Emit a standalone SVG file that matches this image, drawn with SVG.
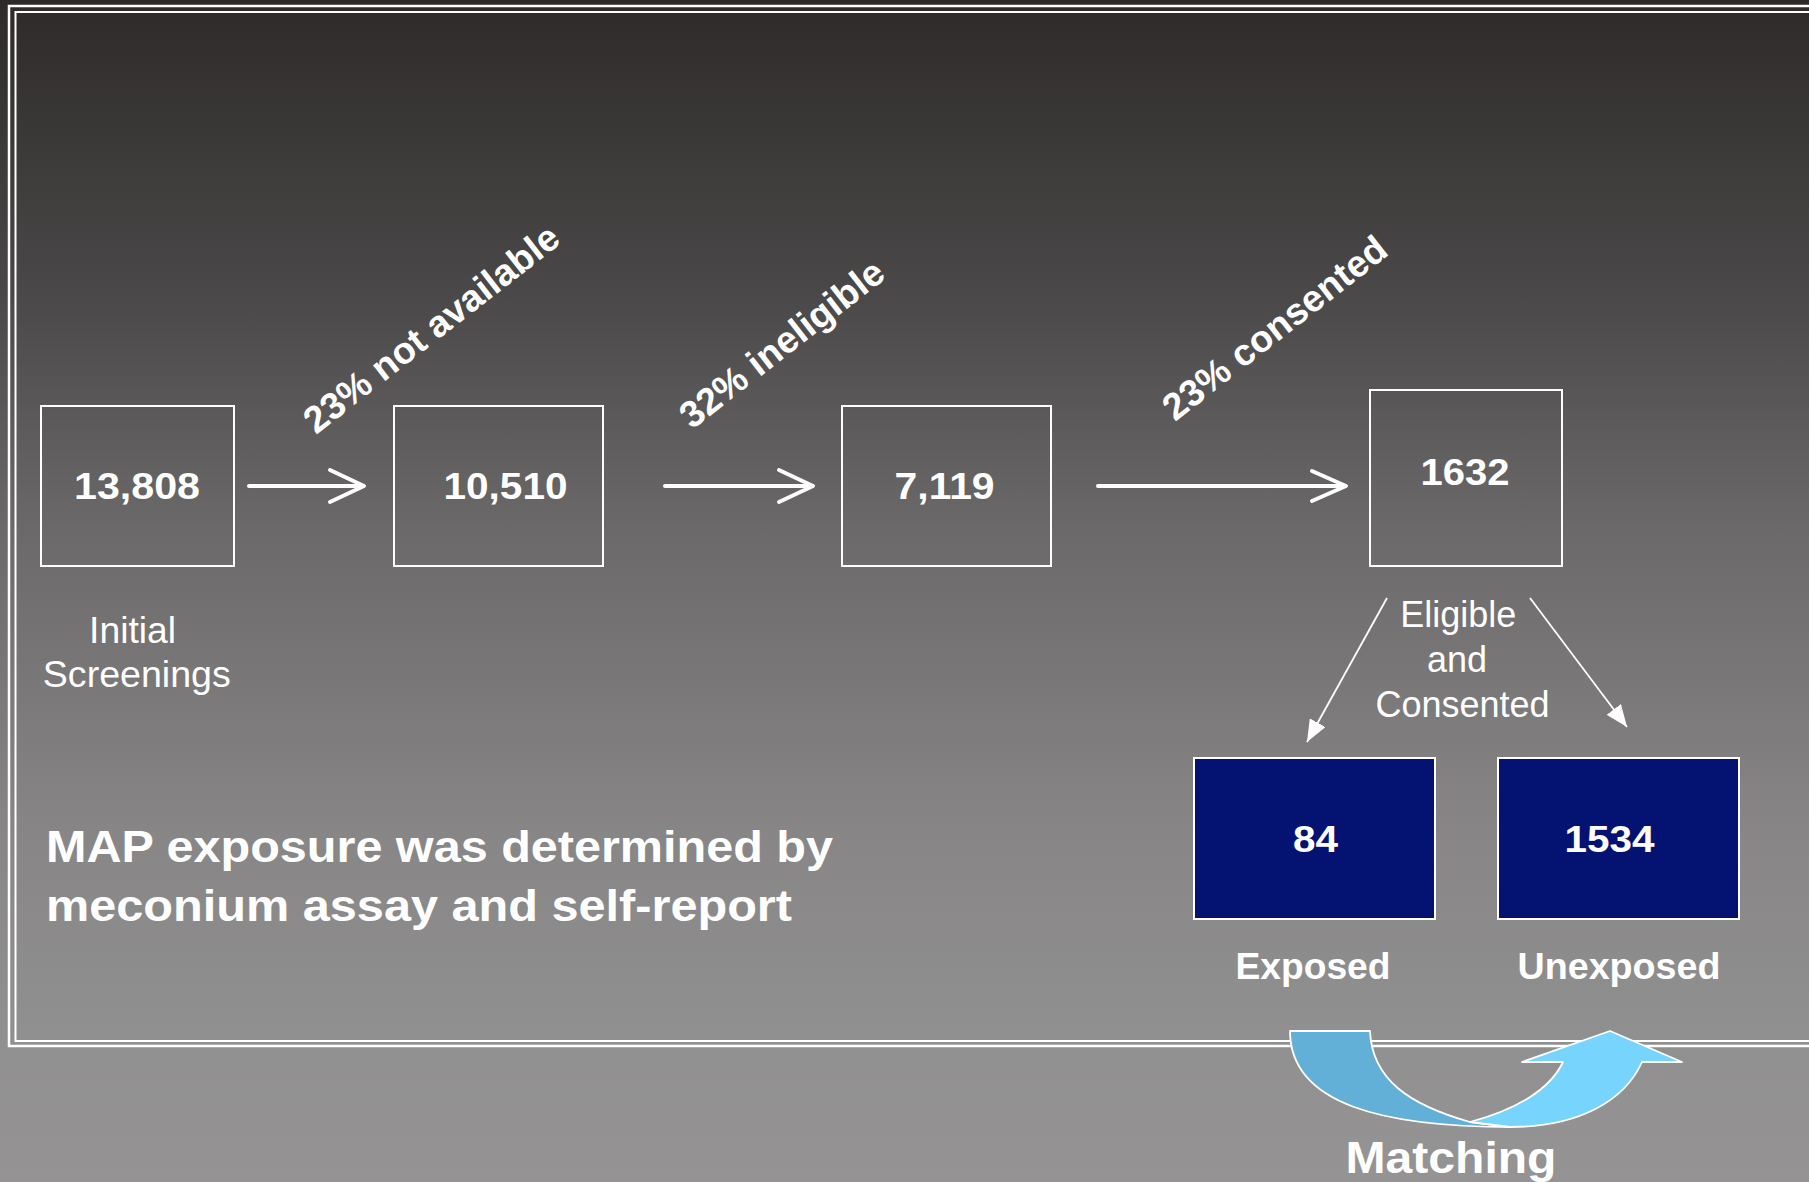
<svg xmlns="http://www.w3.org/2000/svg" width="1809" height="1182" viewBox="0 0 1809 1182">
<defs>
<linearGradient id="bg" x1="0" y1="0" x2="0" y2="1">
<stop offset="0" stop-color="#2e2a2a"/>
<stop offset="0.25" stop-color="#4a4848"/>
<stop offset="0.45" stop-color="#6b6969"/>
<stop offset="0.7" stop-color="#878586"/>
<stop offset="0.88" stop-color="#919091"/>
<stop offset="1" stop-color="#959394"/>
</linearGradient>
<marker id="tri" markerUnits="userSpaceOnUse" viewBox="0 0 22 18" refX="22" refY="9" markerWidth="22" markerHeight="18" orient="auto">
<path d="M0,0 L22,9 L0,18 Z" fill="#ffffff"/>
</marker>
<style>
.box{fill:none;stroke:#ffffff;stroke-width:2}
.nbox{fill:#041272;stroke:#ffffff;stroke-width:2}
.num{font-family:"Liberation Sans",Arial,sans-serif;font-weight:bold;font-size:36px;fill:#ffffff;text-anchor:middle}
.lbl{font-family:"Liberation Sans",Arial,sans-serif;font-size:36px;fill:#ffffff;text-anchor:middle}
.blbl{font-family:"Liberation Sans",Arial,sans-serif;font-weight:bold;font-size:36px;fill:#ffffff;text-anchor:middle}
.diag{font-family:"Liberation Sans",Arial,sans-serif;font-weight:bold;font-size:37.5px;fill:#ffffff}
.big{font-family:"Liberation Sans",Arial,sans-serif;font-weight:bold;font-size:44px;fill:#ffffff}
.thick{fill:none;stroke:#ffffff;stroke-width:4;stroke-linecap:round;stroke-linejoin:round}
.thin{fill:none;stroke:#ffffff;stroke-width:1.8}
</style>
</defs>
<rect x="0" y="0" width="1809" height="1182" fill="url(#bg)"/>
<rect x="9" y="6" width="1900" height="1040" fill="none" stroke="#ffffff" stroke-width="2.5"/>
<rect x="15.5" y="12" width="1900" height="1029" fill="none" stroke="#ffffff" stroke-width="2"/>

<g id="connectors">
<line class="thick" x1="249" y1="486" x2="363" y2="486"/>
<polyline class="thick" points="330,470 364,486 330,502"/>
<line class="thick" x1="665" y1="486" x2="812" y2="486"/>
<polyline class="thick" points="779,470 813,486 779,502"/>
<line class="thick" x1="1098" y1="486" x2="1344" y2="486"/>
<polyline class="thick" points="1312,471 1346,486 1312,501"/>
<line class="thin" x1="1387" y1="598" x2="1307" y2="742" marker-end="url(#tri)"/>
<line class="thin" x1="1530" y1="598" x2="1627" y2="727" marker-end="url(#tri)"/>
</g>

<g id="label-not-available"><text class="diag" transform="translate(316,435) rotate(-38)">23% not available</text></g>
<g id="label-ineligible"><text class="diag" transform="translate(692,430) rotate(-38)">32% ineligible</text></g>
<g id="label-consented"><text class="diag" transform="translate(1175,422) rotate(-38)">23% consented</text></g>

<g id="node-13808">
<rect class="box" x="41" y="406" width="193" height="160"/>
<text class="num" x="137" y="499" textLength="126" lengthAdjust="spacingAndGlyphs">13,808</text>
</g>
<g id="node-initial-label">
<text class="lbl" x="132.6" y="643" textLength="87" lengthAdjust="spacingAndGlyphs">Initial</text>
<text class="lbl" x="136.8" y="687" textLength="188" lengthAdjust="spacingAndGlyphs">Screenings</text>
</g>
<g id="node-10510">
<rect class="box" x="394" y="406" width="209" height="160"/>
<text class="num" x="505.5" y="499" textLength="124" lengthAdjust="spacingAndGlyphs">10,510</text>
</g>
<g id="node-7119">
<rect class="box" x="842" y="406" width="209" height="160"/>
<text class="num" x="944.6" y="499" textLength="100" lengthAdjust="spacingAndGlyphs">7,119</text>
</g>
<g id="node-1632">
<rect class="box" x="1370" y="390" width="192" height="176"/>
<text class="num" x="1465" y="485" textLength="89" lengthAdjust="spacingAndGlyphs">1632</text>
</g>
<g id="node-eligible-label">
<text class="lbl" x="1458.3" y="627">Eligible</text>
<text class="lbl" x="1457" y="672">and</text>
<text class="lbl" x="1462.5" y="717">Consented</text>
</g>
<g id="node-84">
<rect class="nbox" x="1194" y="758" width="241" height="161"/>
<text class="num" x="1315.5" y="852" textLength="45" lengthAdjust="spacingAndGlyphs">84</text>
<text class="blbl" x="1313" y="979" textLength="155" lengthAdjust="spacingAndGlyphs">Exposed</text>
</g>
<g id="node-1534">
<rect class="nbox" x="1498" y="758" width="241" height="161"/>
<text class="num" x="1609.5" y="852" textLength="90" lengthAdjust="spacingAndGlyphs">1534</text>
<text class="blbl" x="1619" y="979" textLength="203" lengthAdjust="spacingAndGlyphs">Unexposed</text>
</g>
<g id="note">
<text class="big" x="46" y="862" textLength="787" lengthAdjust="spacingAndGlyphs">MAP exposure was determined by</text>
<text class="big" x="46" y="921" textLength="746" lengthAdjust="spacingAndGlyphs">meconium assay and self-report</text>
</g>
<g id="matching">
<path d="M1290,1031 C1290,1105 1385,1127 1512,1127 L1470,1122 C1410,1105 1372,1080 1370,1031 Z" fill="#62b0d8" stroke="#ffffff" stroke-width="1.8" stroke-linejoin="round"/>
<path d="M1470,1122 C1515,1110 1550,1090 1563,1062 L1522,1062 L1610,1031 L1682,1062 L1642,1062 C1625,1100 1580,1127 1510,1127 Z" fill="#77d4fd" stroke="#ffffff" stroke-width="1.8" stroke-linejoin="round"/>
<text class="blbl" x="1451" y="1173" style="font-size:45px" textLength="211" lengthAdjust="spacingAndGlyphs">Matching</text>
</g>
</svg>
